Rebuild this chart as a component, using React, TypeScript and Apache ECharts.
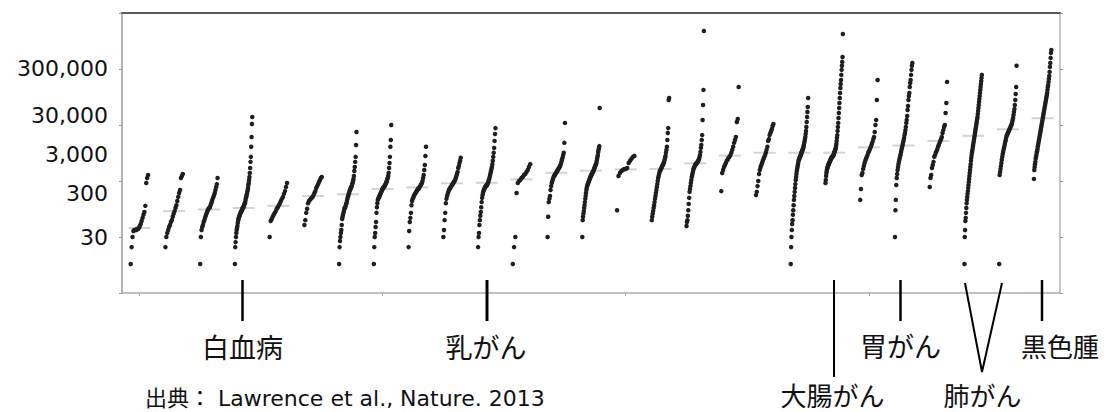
import React, { useEffect, useRef } from "react";
import * as echarts from "echarts";

// Tumour types (x categories, in figure order)
const categories = [
  "Rhabdoid tumour", "Ewing sarcoma", "Thyroid", "AML", "Medulloblastoma", "Carcinoid",
  "CLL", "Neuroblastoma", "Prostate", "Low-grade glioma", "Breast", "Multiple myeloma",
  "Kidney clear cell", "Kidney papillary cell", "Kidney chromophobe", "Ovarian",
  "Glioblastoma multiforme", "Pancreas", "DLBCL", "Head and neck", "Colorectal",
  "Oesophageal adenocarcinoma", "Stomach", "Bladder", "Lung adenocarcinoma",
  "Lung squamous cell", "Melanoma",
];

// Somatic mutation frequency (/Mb) per sample, sorted ascending within each tumour type
const rhabdoid = [0.33, 0.66, 1.0, 1.28, 1.33, 1.33, 1.33, 1.39, 1.39, 1.45, 1.57, 1.71, 1.93, 2.2, 2.5, 2.8, 3.6, 9.2, 11.3, 12.8];
const ewing = [0.66, 1.0, 1.18, 1.33, 1.51, 1.64, 1.85, 2.0, 2.3, 2.6, 2.9, 3.3, 3.7, 4.4, 5.2, 6.1, 6.9, 11.3, 12.3, 13.3];
const thyroid = [0.33, 1.0, 1.33, 1.51, 1.64, 1.85, 2.0, 2.2, 2.4, 2.6, 2.8, 3.0, 3.2, 3.3, 3.4, 3.7, 4.0, 4.4, 4.8, 5.2, 5.6, 6.1, 6.9, 7.8, 8.8, 11.3];
const aml = [0.33, 0.66, 0.81, 1.0, 1.18, 1.33, 1.45, 1.57, 1.78, 1.93, 2.1, 2.2, 2.3, 2.4, 2.5, 2.6, 2.7, 2.8, 2.9, 2.9, 3.0, 3.2, 3.3, 3.3, 3.4, 3.6, 3.7, 3.9, 4.0, 4.2, 4.6, 5.0, 5.2, 5.6, 5.9, 6.4, 6.9, 7.5, 8.5, 9.2, 10.4, 11.8, 13.9, 17.1, 22, 27, 41, 61, 104, 139];
const medullo = [1.0, 1.93, 2.1, 2.3, 2.5, 2.7, 2.9, 3.2, 3.4, 3.7, 4.0, 4.4, 4.8, 5.2, 5.9, 6.6, 7.8, 9.2];
const carcinoid = [1.64, 2.0, 2.7, 3.2, 4.0, 4.4, 4.6, 4.8, 5.0, 5.2, 5.6, 6.1, 6.6, 7.5, 8.1, 8.8, 9.6, 10.4, 11.3, 11.8];
const cll = [0.33, 0.66, 0.85, 1.0, 1.18, 1.33, 1.64, 2.1, 2.3, 2.5, 2.7, 2.9, 3.2, 3.3, 3.4, 3.6, 3.9, 4.0, 4.4, 4.8, 5.2, 5.4, 5.9, 6.1, 6.6, 6.9, 7.2, 7.5, 7.8, 8.1, 8.8, 9.2, 10, 10.9, 12.3, 15.1, 17.8, 22, 27, 44, 75];
const neuroblastoma = [0.33, 0.66, 1.0, 1.18, 1.51, 1.85, 2.7, 3.4, 4.0, 4.6, 4.8, 5.0, 5.2, 5.4, 5.6, 5.9, 6.1, 6.4, 6.6, 6.9, 7.2, 7.5, 7.5, 7.8, 8.1, 8.1, 8.5, 8.8, 9.2, 9.6, 10, 10.9, 11.3, 12.3, 13.9, 17.1, 21, 27, 41, 54, 100];
const prostate = [0.66, 1.28, 1.85, 2.2, 2.7, 3.7, 4.4, 4.8, 5.0, 5.4, 5.6, 5.9, 6.1, 6.4, 6.6, 6.9, 7.2, 7.2, 7.5, 7.8, 8.1, 8.5, 8.8, 9.2, 10, 11.3, 12.8, 15.7, 19.3, 28, 41];
const lowGradeGlioma = [1.0, 1.33, 2.0, 2.7, 4.0, 4.8, 5.4, 5.9, 6.4, 6.9, 7.2, 7.5, 7.8, 8.1, 8.5, 8.8, 9.2, 9.6, 10, 10.4, 11.3, 12.3, 13.3, 14.5, 17.1, 18.5, 21, 23, 26];
const breast = [0.66, 1.0, 1.18, 1.64, 2.0, 2.4, 2.8, 3.4, 4.2, 5.0, 5.6, 6.1, 6.6, 6.9, 7.2, 7.5, 7.8, 8.1, 8.1, 8.5, 8.5, 8.8, 9.2, 9.6, 10.4, 10.9, 11.8, 12.8, 13.9, 15.1, 16.4, 17.8, 20, 23, 27, 32, 39, 52, 69, 88];
const myeloma = [0.33, 0.66, 1.0, 6.1, 9.2, 10, 10.4, 11.3, 11.8, 12.8, 13.3, 14.5, 15.7, 17.8, 20];
const kidneyClear = [1.0, 2.3, 4.2, 4.8, 5.4, 6.9, 8.1, 9.2, 10, 10.9, 11.8, 12.3, 12.8, 13.3, 13.9, 14.5, 15.1, 15.7, 16.4, 17.1, 17.8, 18.5, 20, 22, 24, 26, 29, 32, 48, 109];
const kidneyPapillary = [1.0, 2.0, 2.3, 2.6, 2.9, 3.3, 3.7, 4.2, 4.8, 5.4, 6.1, 6.9, 7.5, 8.1, 8.5, 8.8, 9.2, 9.6, 10, 10.4, 10.9, 11.3, 11.8, 12.3, 12.8, 12.8, 13.3, 13.9, 14.5, 14.5, 15.1, 15.7, 16.4, 17.1, 17.8, 18.5, 19.3, 20, 21, 23, 25, 27, 29, 33, 36, 39, 42, 201];
const kidneyChromophobe = [3.0, 12.3, 13.9, 15.1, 15.7, 16.4, 16.4, 17.1, 21, 23, 25, 27, 28];
const ovarian = [2.0, 2.3, 2.6, 2.9, 3.3, 3.7, 4.2, 4.8, 5.4, 6.1, 6.9, 7.8, 8.8, 10, 11.3, 12.3, 13.3, 14.5, 15.1, 15.7, 16.4, 17.1, 17.8, 18.5, 19.3, 20, 21, 22, 24, 26, 28, 32, 36, 41, 54, 72, 88, 280, 304];
const glioblastoma = [1.57, 1.85, 2.0, 2.4, 3.0, 3.9, 5.0, 6.4, 7.2, 8.1, 9.2, 10.4, 11.8, 12.8, 13.9, 15.1, 16.4, 17.1, 17.8, 18.5, 19.3, 20, 20, 21, 21, 22, 22, 23, 24, 25, 27, 29, 33, 39, 44, 54, 66, 123, 228, 423, 4770];
const pancreas = [6.6, 13.9, 15.7, 17.8, 19.3, 21, 23, 24, 26, 27, 29, 32, 36, 41, 48, 54, 61, 113, 128, 478];
const dlbcl = [5.6, 6.4, 8.1, 10, 13.3, 15.7, 17.8, 19.3, 21, 23, 25, 27, 29, 32, 36, 41, 52, 56, 66, 72, 78, 85, 96, 104];
const headNeck = [0.33, 0.66, 1.0, 1.33, 1.71, 2.0, 2.5, 3.0, 3.7, 4.6, 5.4, 6.4, 7.5, 8.8, 10.4, 11.8, 13.3, 15.1, 16.4, 17.8, 19.3, 21, 23, 24, 25, 26, 27, 28, 29, 30, 32, 33, 34, 36, 37, 39, 41, 44, 48, 52, 56, 61, 69, 78, 92, 113, 139, 171, 210, 304];
const colorectal = [9.2, 10.4, 12.3, 13.9, 15.1, 16.4, 17.1, 17.8, 18.5, 19.3, 20, 20, 21, 22, 22, 23, 24, 24, 25, 26, 26, 27, 27, 28, 28, 29, 29, 30, 32, 33, 34, 36, 37, 39, 42, 46, 52, 59, 66, 78, 92, 109, 133, 164, 201, 247, 304, 373, 459, 541, 638, 785, 965, 1140, 1340, 1640, 4220];
const oesophageal = [4.6, 7.2, 12.8, 13.9, 16.4, 18.5, 21, 23, 25, 27, 29, 32, 34, 36, 39, 42, 46, 50, 56, 61, 75, 100, 123, 280, 638];
const stomach = [1.0, 3.0, 4.6, 8.5, 11.3, 13.3, 15.7, 17.8, 20, 22, 24, 26, 28, 30, 33, 36, 39, 42, 46, 50, 54, 59, 66, 72, 81, 92, 109, 123, 145, 185, 218, 280, 330, 373, 478, 564, 638, 785, 965, 1140, 1280];
const bladder = [7.8, 11.3, 12.8, 17.1, 19.3, 22, 27, 29, 32, 34, 37, 41, 44, 48, 52, 56, 61, 72, 81, 92, 100, 164, 247, 588];
const lungAdeno = [0.33, 1.0, 1.33, 1.93, 2.2, 2.7, 3.3, 4.0, 4.6, 5.2, 5.9, 6.6, 7.5, 8.5, 9.6, 10.9, 12.3, 13.9, 15.7, 17.8, 20, 23, 26, 29, 32, 34, 37, 41, 44, 48, 52, 56, 61, 66, 72, 78, 85, 92, 100, 109, 118, 128, 139, 157, 178, 201, 228, 258, 292, 330, 373, 423, 478, 541, 612, 693, 785];
const lungSquamous = [0.33, 12.8, 14.5, 16.4, 18.5, 21, 24, 27, 30, 33, 36, 39, 42, 46, 50, 54, 59, 64, 66, 69, 72, 75, 78, 81, 85, 88, 92, 96, 100, 104, 113, 123, 133, 151, 171, 193, 228, 280, 358, 478, 1140];
const melanoma = [10.9, 15.7, 17.8, 20, 22, 25, 27, 29, 32, 34, 37, 41, 44, 48, 52, 56, 61, 66, 72, 78, 85, 92, 100, 109, 118, 128, 139, 151, 164, 178, 193, 210, 228, 247, 268, 292, 317, 344, 373, 423, 478, 519, 588, 665, 753, 888, 1090, 1280, 1580, 1940, 2190];

const groups = [
  rhabdoid, ewing, thyroid, aml, medullo, carcinoid, cll, neuroblastoma, prostate,
  lowGradeGlioma, breast, myeloma, kidneyClear, kidneyPapillary, kidneyChromophobe, ovarian,
  glioblastoma, pancreas, dlbcl, headNeck, colorectal, oesophageal, stomach, bladder,
  lungAdeno, lungSquamous, melanoma,
];

// Median frequency (/Mb) per tumour type (grey bars)
const medians = [1.45, 2.9, 3.1, 3.3, 3.6, 5.4, 5.8, 7.2, 7.7, 9.1, 9.3, 10.7, 14, 15.3, 16.1, 16.4, 20.7, 28.4, 32, 32, 32, 40, 43, 52, 64, 84, 132];

// Left-hand labels (mutations per exome) as printed
const yTickLabels = ["300,000", "30,000", "3,000", "300", "30"];

const leukemia = "白血病";
const breastLabel = "乳がん";
const colorectalLabel = "大腸がん";
const stomachLabel = "胃がん";
const lungLabel = "肺がん";
const melanomaLabel = "黒色腫";
const sourceNote = "出典： Lawrence et al., Nature. 2013";

export default function App() {
  const ref = useRef<HTMLDivElement>(null);

  useEffect(() => {
    if (!ref.current) return;
    const chart = echarts.init(ref.current, null, { renderer: "svg" });

    const spread = 0.5;
    const dots: number[][] = [];
    groups.forEach((vals, k) => {
      const n = vals.length;
      vals.forEach((v, i) => {
        const t = n > 1 ? i / (n - 1) - 0.5 : 0;
        dots.push([k + 0.5 + t * spread, v]);
      });
    });
    const medianPts = medians.map((m, k) => [k + 0.5, m]);

    const labelY = [68, 115, 154, 193, 237];
    const latin = "'DejaVu Sans', 'Noto Sans CJK JP', sans-serif";
    const cjk = "'Noto Sans CJK JP', sans-serif";

    const text = (t: string, x: number, y: number, size: number, family: string, align = "center") => ({
      type: "text",
      x,
      y,
      z: 100,
      style: {
        text: t,
        fontSize: size,
        fontFamily: family,
        fill: "#111",
        align,
        verticalAlign: "middle",
      },
    });
    const vline = (x: number, y1: number, y2: number, w: number) => ({
      type: "line",
      z: 100,
      shape: { x1: x, y1, x2: x, y2 },
      style: { stroke: "#000", lineWidth: w },
    });

    const yAxisBase = {
      type: "log",
      logBase: 10,
      min: 0.1,
      max: 10000,
      axisLine: { show: true, lineStyle: { color: "#b3b3b3", width: 2 } },
      axisTick: { show: true, length: 3, lineStyle: { color: "#9a9a9a", width: 1 } },
      axisLabel: { show: false },
      splitLine: { show: false },
    };

    chart.setOption({
      animation: false,
      backgroundColor: "#fff",
      grid: { left: 122, right: 44, top: 13, bottom: 119, containLabel: false },
      xAxis: [
        {
          type: "category",
          data: categories,
          position: "bottom",
          boundaryGap: true,
          axisLine: { show: true, lineStyle: { color: "#ababab", width: 1.5 } },
          axisTick: { show: true, alignWithLabel: true, length: 3, lineStyle: { color: "#ababab" } },
          axisLabel: { show: false },
          splitLine: { show: false },
        },
        {
          type: "value",
          min: 0,
          max: categories.length,
          position: "top",
          axisLine: { show: true, onZero: false, lineStyle: { color: "#5a5a5a", width: 2 } },
          axisTick: { show: false },
          axisLabel: { show: false },
          splitLine: { show: false },
        },
      ],
      yAxis: [
        { ...yAxisBase, position: "left" },
        { ...yAxisBase, position: "right", axisLine: { show: true, lineStyle: { color: "#b3b3b3", width: 1.5 } } },
      ],
      series: [
        {
          type: "scatter",
          xAxisIndex: 1,
          yAxisIndex: 0,
          data: medianPts,
          symbol: "rect",
          symbolSize: [22, 2],
          itemStyle: { color: "#c8c8c8" },
          z: 1,
          silent: true,
        },
        {
          type: "scatter",
          xAxisIndex: 1,
          yAxisIndex: 0,
          data: dots,
          symbol: "circle",
          symbolSize: 4.5,
          itemStyle: { color: "#1e1e1e", opacity: 1 },
          z: 2,
          silent: true,
        },
      ],
      graphic: [
        ...yTickLabels.map((t, i) => text(t, 108, labelY[i], 22, latin, "right")),
        vline(242.5, 280, 321, 2.5),
        vline(487, 280, 321, 3),
        vline(834, 280, 377, 2),
        vline(900.5, 280, 321, 2.5),
        vline(1042, 280, 321, 2.5),
        {
          type: "polyline",
          z: 100,
          shape: { points: [[965, 283], [982, 372], [1002, 283]] },
          style: { stroke: "#000", lineWidth: 2, fill: "none" },
        },
        text(leukemia, 242.5, 346, 27, cjk),
        text(breastLabel, 486, 346, 27, cjk),
        text(stomachLabel, 900.5, 345, 27, cjk),
        text(melanomaLabel, 1060, 345, 26, cjk),
        text(colorectalLabel, 832.5, 394, 26, cjk),
        text(lungLabel, 982.5, 394, 26, cjk),
        text(sourceNote, 145, 398, 22, latin, "left"),
      ],
    });

    return () => chart.dispose();
  }, []);

  return (
    <div
      ref={ref}
      style={{ position: "absolute", left: 0, top: 0, width: 1104, height: 412, background: "#fff" }}
    />
  );
}
